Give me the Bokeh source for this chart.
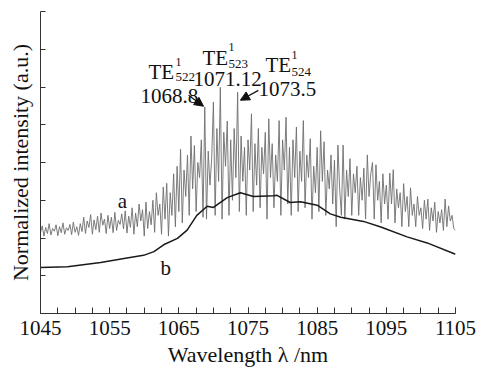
import numpy as np
from bokeh.plotting import figure
from bokeh.models import FixedTicker, Label, Arrow, NormalHead
from bokeh.embed import file_html
from bokeh.resources import INLINE

# ---- data ----
# curve a: measured spectrum, one value every 0.25 nm from 1045 to 1105 nm
a_start, a_step = 1045.0, 0.25
a_values = [
    2.15, 2.32, 2.05, 2.28, 2.12, 2.38, 2.08, 2.25,
    2.18, 2.35, 2.06, 2.30, 2.14, 2.40, 2.10, 2.27,
    2.20, 2.36, 2.09, 2.42, 2.15, 2.30, 2.07, 2.38,
    2.17, 2.55, 2.12, 2.45, 2.28, 2.62, 2.10, 2.48,
    2.22, 2.58, 2.15, 2.66, 2.34, 2.50, 2.12, 2.60,
    2.25, 2.55, 2.14, 2.68, 2.20, 2.47, 2.36, 2.64,
    2.24, 2.72, 2.13, 2.58, 2.28, 2.80, 2.10, 2.66,
    2.30, 2.90, 2.45, 2.75, 2.05, 2.95, 2.25, 2.70,
    2.35, 3.00, 2.15, 3.20, 2.60, 2.90, 2.10, 3.35,
    2.50, 3.45, 2.05, 3.20, 2.60, 3.70, 2.30, 3.90,
    2.70, 4.35, 2.40, 3.80, 3.10, 4.20, 2.60, 4.70,
    3.30, 4.45, 2.70, 4.00, 3.60, 4.60, 2.55, 5.47,
    2.50, 4.30, 3.40, 4.10, 5.60, 2.60, 4.90, 3.50,
    5.99, 2.50, 4.80, 3.90, 5.10, 2.60, 4.60, 3.00,
    4.90, 3.60, 5.86, 2.70, 4.70, 3.50, 4.40, 2.60,
    4.60, 3.80, 5.29, 2.70, 4.50, 3.40, 4.90, 2.80,
    4.40, 3.70, 4.80, 2.50, 5.16, 3.60, 4.50, 2.80,
    4.20, 3.50, 5.11, 2.60, 4.60, 3.80, 5.20, 2.90,
    4.40, 2.60, 4.60, 3.60, 4.94, 2.70, 4.30, 3.50,
    5.11, 2.80, 4.20, 3.60, 4.63, 2.50, 3.90, 3.20,
    4.40, 2.70, 4.84, 3.50, 4.55, 2.60, 3.80, 3.30,
    4.20, 2.90, 4.06, 2.30, 4.46, 3.30, 2.60, 4.46,
    2.50, 3.80, 3.10, 4.10, 2.60, 3.70, 3.20, 3.90,
    2.60, 3.60, 3.00, 3.85, 2.50, 4.20, 3.10, 3.70,
    4.00, 2.50, 3.94, 3.00, 3.50, 2.40, 3.70, 2.90,
    3.40, 2.50, 3.72, 2.90, 3.81, 2.40, 3.30, 2.80,
    3.20, 2.30, 3.44, 2.70, 3.10, 2.30, 3.33, 2.60,
    2.90, 2.30, 3.10, 2.60, 2.80, 2.25, 3.00, 2.50,
    3.03, 2.20, 2.80, 2.45, 2.95, 2.15, 2.70, 2.40,
    2.75, 2.20, 3.03, 2.30, 2.85, 2.45, 2.60, 2.25,
    2.20,
]
a_wavelength = [a_start + a_step * i for i in range(len(a_values))]

# curve b: smooth spectrum
b_wavelength = [1045, 1048.9, 1053.7, 1057.5, 1059.9, 1061.4, 1062.8, 1064.8,
                1066.2, 1067.6, 1069.1, 1070.0, 1072.0, 1073.9, 1075.8, 1078.7,
                1079.2, 1081.1, 1082.6, 1085.0, 1086.9, 1088.4, 1091.7, 1094.2,
                1098.0, 1100.9, 1105]
b_values = [1.22, 1.24, 1.35, 1.47, 1.54, 1.64, 1.82, 1.99,
            2.21, 2.60, 2.84, 2.81, 3.07, 3.20, 3.10, 3.12,
            3.13, 2.94, 2.96, 2.87, 2.64, 2.55, 2.44, 2.29,
            2.03, 1.87, 1.57]

x_major_ticks = [1045, 1055, 1065, 1075, 1085, 1095, 1105]
x_minor_ticks = [1045 + 2.5 * k for k in range(25)]
y_ticks = [0, 1, 2, 3, 4, 5, 6, 7, 8]

peaks = [
    # (TE subscript, wavelength label)
    ("522", "1068.8"),
    ("523", "1071.12"),
    ("524", "1073.5"),
]

FONT = "Liberation Serif"
INK = "#111111"

p = figure(width=480, height=369, output_backend="svg", toolbar_location=None,
           x_range=(1045, 1105), y_range=(0, 8),
           min_border_left=40, min_border_right=25, min_border_top=11,
           min_border_bottom=51)
p.outline_line_color = None
p.grid.visible = False
p.background_fill_color = "white"
p.border_fill_color = "white"

p.line(a_wavelength, a_values, line_color="#6e6e6e", line_width=0.9)
p.line(b_wavelength, b_values, line_color="#1a1a1a", line_width=1.5)

# axes
xa = p.xaxis[0]
xa.ticker = FixedTicker(ticks=x_major_ticks, minor_ticks=x_minor_ticks)
xa.major_tick_in = 6
xa.major_tick_out = 0
xa.minor_tick_in = 6
xa.minor_tick_out = 0
xa.axis_line_color = "#333333"
xa.major_tick_line_color = "#333333"
xa.minor_tick_line_color = "#333333"
xa.major_label_text_font = FONT
xa.major_label_text_font_size = "21px"
xa.major_label_text_color = INK
xa.major_label_standoff = 7
xa.axis_label = "Wavelength λ /nm"
xa.axis_label_text_font = FONT
xa.axis_label_text_font_size = "22px"
xa.axis_label_text_font_style = "normal"
xa.axis_label_text_color = INK
xa.axis_label_standoff = 4

ya = p.yaxis[0]
ya.ticker = FixedTicker(ticks=y_ticks, minor_ticks=[])
ya.major_tick_in = 5
ya.major_tick_out = 0
ya.axis_line_color = "#333333"
ya.major_tick_line_color = "#333333"
ya.major_label_overrides = {t: "" for t in y_ticks}
ya.major_label_text_font_size = "1px"
ya.axis_label = "Normalized intensity (a.u.)"
ya.axis_label_text_font = FONT
ya.axis_label_text_font_size = "22px"
ya.axis_label_text_font_style = "normal"
ya.axis_label_text_color = INK
ya.axis_label_standoff = 8

# curve labels
p.add_layout(Label(x=1056.85, y=2.99, text="a", text_font=FONT, text_font_size="21px",
                   text_align="center", text_baseline="alphabetic", text_color=INK))
p.add_layout(Label(x=1062.35, y=1.2, text="b", text_font=FONT, text_font_size="21px",
                   text_align="left", text_baseline="alphabetic", text_color=INK))

# peak annotations
te_pos = [(1060.61, 6.41), (1068.42, 6.77), (1077.53, 6.59)]
sup_pos = [(1064.52, 6.67), (1072.18, 7.06), (1081.29, 6.85)]
sub_pos = [(1064.52, 6.26), (1072.18, 6.62), (1081.29, 6.39)]
num_pos = [(1059.46, 5.76), (1067.12, 6.2), (1076.52, 5.94)]
for (sub, num), tp, sp, bp, np_ in zip(peaks, te_pos, sup_pos, sub_pos, num_pos):
    p.add_layout(Label(x=tp[0], y=tp[1], text="TE", text_font=FONT, text_font_size="21px",
                       text_baseline="alphabetic", text_color=INK))
    p.add_layout(Label(x=sp[0], y=sp[1], text="1", text_font=FONT, text_font_size="12px",
                       text_baseline="alphabetic", text_color=INK))
    p.add_layout(Label(x=bp[0], y=bp[1], text=sub, text_font=FONT, text_font_size="13px",
                       text_baseline="alphabetic", text_color=INK))
    p.add_layout(Label(x=np_[0], y=np_[1], text=num, text_font=FONT, text_font_size="21px",
                       text_baseline="alphabetic", text_color=INK))

# arrows
p.add_layout(Arrow(end=NormalHead(size=9, fill_color=INK, line_color=INK),
                   x_start=1066.4, y_start=5.78, x_end=1068.57, y_end=5.49,
                   line_color=INK, line_width=1.2))
p.add_layout(Arrow(end=NormalHead(size=9, fill_color=INK, line_color=INK),
                   x_start=1076.5, y_start=5.91, x_end=1073.9, y_end=5.65,
                   line_color=INK, line_width=1.2))

open("out.html", "w").write(file_html(p, INLINE))
